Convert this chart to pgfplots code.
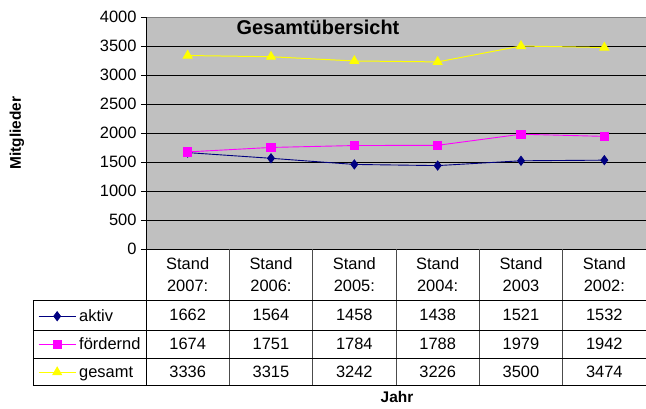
\documentclass[border=0pt]{standalone}
\usepackage{fontspec}
\setmainfont{Liberation Sans}
\usepackage{pgfplots}
\usepackage{pgfplotstable}
\pgfplotsset{compat=1.18}
\definecolor{plotgray}{HTML}{C0C0C0}
\definecolor{aktivc}{HTML}{000080}
\definecolor{foerdc}{HTML}{FF00FF}
\definecolor{gesc}{HTML}{FFFF00}
\definecolor{bordergray}{HTML}{808080}

\pgfplotstableread{
x aktiv foerdernd gesamt
0 1662 1674 3336
1 1564 1751 3315
2 1458 1784 3242
3 1438 1788 3226
4 1521 1979 3500
5 1532 1942 3474
}\datatab

\begin{document}
\begin{tikzpicture}[x=1bp,y=1bp]
\path[use as bounding box] (-146,-159) rectangle (500,249);
\begin{axis}[
  at={(0,0)}, anchor=south west,
  scale only axis, width=500bp, height=232bp,
  xmin=-0.5, xmax=5.5, ymin=0, ymax=4000,
  ytick={0,500,...,4000},
  xtick=\empty,
  ymajorgrids, grid style={black, line width=0.7pt},
  axis background/.style={fill=plotgray},
  axis line style={draw=none},
  ytick pos=left, tick align=outside, major tick length=5bp,
  tick style={black, line width=0.7pt},
  yticklabel style={font=\fontsize{16.5}{16.5}\selectfont, xshift=-1bp},
  /pgf/number format/assume math mode=true,
  /pgf/number format/set thousands separator={},
  clip=false,
  ylabel={Mitglieder},
  ylabel style={at={(axis description cs:-0.258,0.5)}, anchor=center, font=\fontsize{15.5}{15.5}\selectfont\bfseries},
  xlabel={Jahr},
  xlabel style={at={(axis description cs:0.502,-0.638)}, anchor=center, font=\fontsize{15.5}{15.5}\selectfont\bfseries},
  title={Gesamtübersicht},
  title style={at={(axis description cs:0.344,0.93)}, anchor=center, font=\fontsize{20}{20}\selectfont\bfseries},
  legend style={at={(axis description cs:-0.222,-0.22)}, anchor=north west, draw=none, fill=none,
    font=\fontsize{16.5}{16.5}\selectfont, row sep=0pt,
    nodes={inner ysep=0pt, inner xsep=3bp, text height=19bp, text depth=9bp}},
  legend cell align=left,
  legend image code/.code={\draw[mark repeat=2,mark phase=2] plot coordinates {(0bp,0bp) (18.5bp,0bp) (37bp,0bp)};},
]
\addplot[color=aktivc, line width=0.9pt, mark=diamond*, mark size=4.5bp, mark options={fill=aktivc}] table[x=x,y=aktiv] {\datatab};
\addlegendentry{aktiv}
\addplot[color=foerdc, line width=0.9pt, mark=square*, mark size=4.2bp, mark options={fill=foerdc}] table[x=x,y=foerdernd] {\datatab};
\addlegendentry{fördernd}
\addplot[color=gesc, line width=1pt, mark=triangle*, mark size=5bp, mark options={fill=gesc}] table[x=x,y=gesamt] {\datatab};
\addlegendentry{gesamt}
\end{axis}
% plot-area frame
\draw[bordergray, line width=1pt] (0,232) -- (500,232) -- (500,0);
\draw[black, line width=1pt] (0,-136) -- (0,232);
\draw[black, line width=1pt] (0,0) -- (500,0);
% data table
\foreach \k in {1,...,5} {\draw[black!70, line width=0.8pt] ({83.333*\k},0) -- ({83.333*\k},-136);}
\draw[black, line width=0.8pt] (-113,-51) -- (500,-51);
\draw[black, line width=0.8pt] (-113,-81) -- (500,-81);
\draw[black, line width=0.8pt] (-113,-109) -- (500,-109);
\draw[black, line width=0.8pt] (-113,-136) -- (500,-136);
\draw[black, line width=0.8pt] (-113,-51) -- (-113,-136);
\foreach \i/\lab in {0/2007:,1/2006:,2/2005:,3/2004:,4/2003,5/2002:} {
  \node[font=\fontsize{16.5}{22.5}\selectfont, align=center] at ({83.333*(\i+0.5)},-25.5) {Stand\\\lab};
}
\foreach \i/\a/\f/\g in {0/1662/1674/3336,1/1564/1751/3315,2/1458/1784/3242,3/1438/1788/3226,4/1521/1979/3500,5/1532/1942/3474} {
  \node[font=\fontsize{16.5}{16.5}\selectfont] at ({83.333*(\i+0.5)},-66) {\a};
  \node[font=\fontsize{16.5}{16.5}\selectfont] at ({83.333*(\i+0.5)},-95) {\f};
  \node[font=\fontsize{16.5}{16.5}\selectfont] at ({83.333*(\i+0.5)},-122.5) {\g};
}
\end{tikzpicture}
\end{document}
